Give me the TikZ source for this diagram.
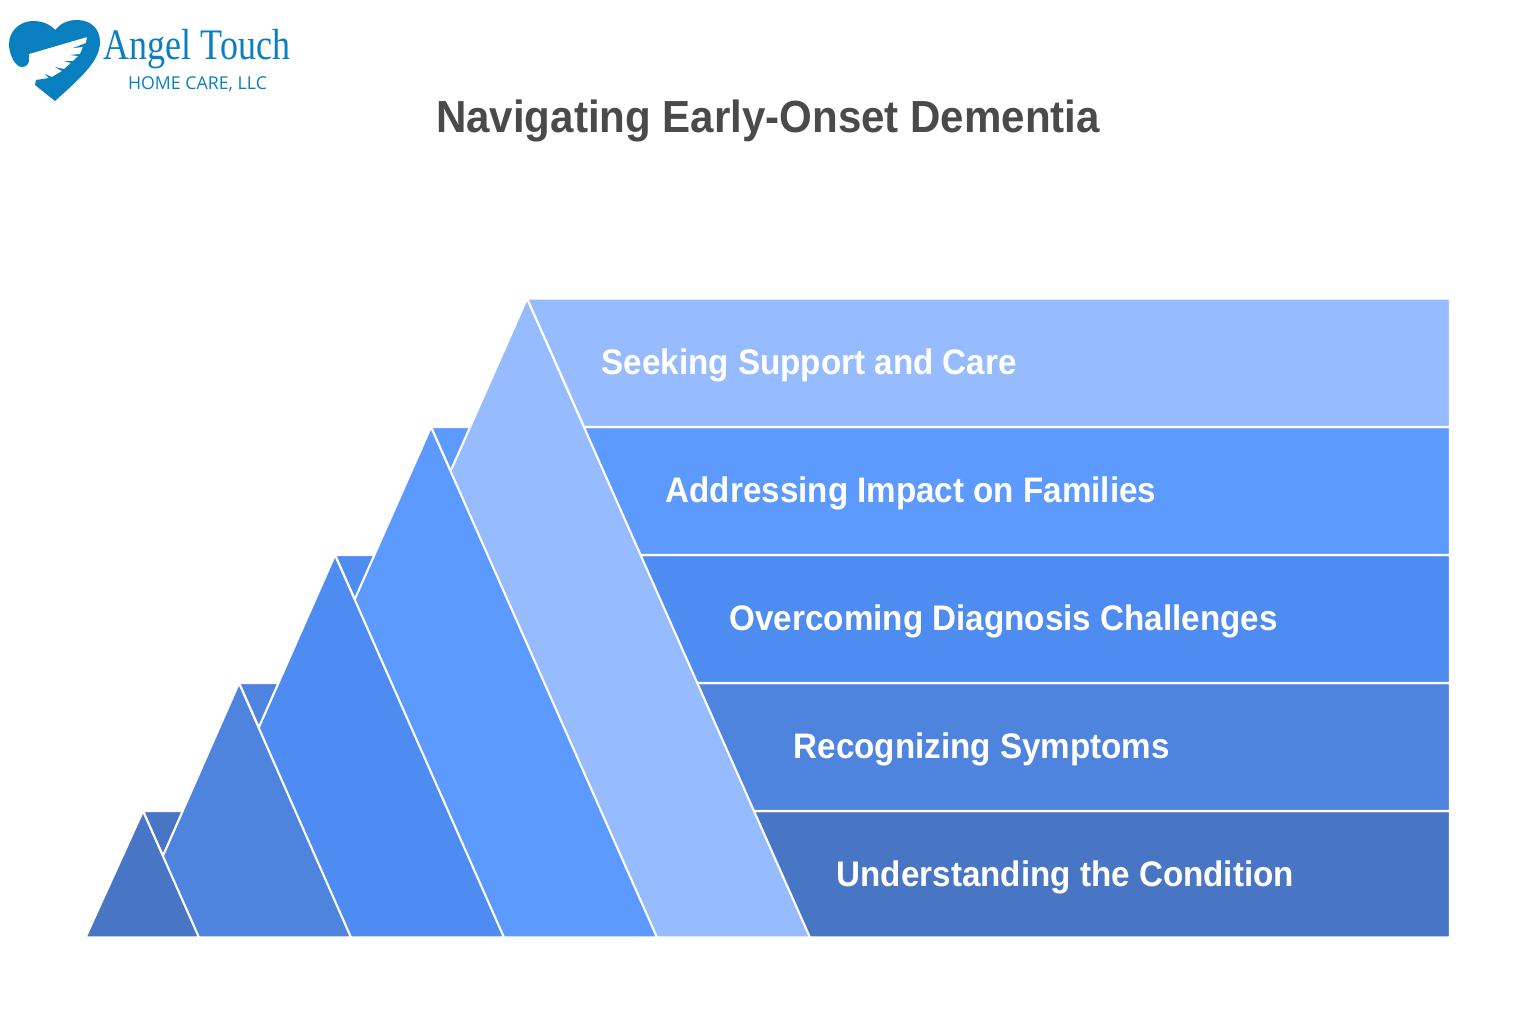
\documentclass[tikz,border=0pt]{standalone}
\usepackage{fontspec}
\setmainfont[FakeStretch=0.935]{Liberation Sans}
\newfontfamily\logoserif[FakeStretch=0.825]{Liberation Serif}
\newfontfamily\logosans{Open Sans}
\definecolor{shadeA}{HTML}{4976C4}
\definecolor{shadeB}{HTML}{4F84DE}
\definecolor{shadeC}{HTML}{4F8CF2}
\definecolor{shadeD}{HTML}{5C9AFF}
\definecolor{shadeE}{HTML}{96BBFF}
\definecolor{logoblue}{HTML}{0A7FBF}
\definecolor{titlegray}{HTML}{4A4A4A}
\tikzset{
    slab/.style={draw=white,line width=0.6pt,line join=round},
    steplabel/.style={anchor=west,text=white,inner sep=0pt,font=\fontsize{10.1}{12}\selectfont\bfseries}
}
\begin{document}
\begin{tikzpicture}
    \useasboundingbox (0,0) rectangle (15.36,-10.24);
    \fill[white] (0,0) rectangle (15.36,-10.24);
    % logo
    \fill[logoblue] (0.55,-1.01) .. controls (0.78,-0.80) and (1.00,-0.62) .. (1.00,-0.42)
        .. controls (1.00,-0.28) and (0.90,-0.20) .. (0.77,-0.20)
        .. controls (0.67,-0.20) and (0.60,-0.24) .. (0.55,-0.30)
        .. controls (0.50,-0.24) and (0.42,-0.21) .. (0.33,-0.21)
        .. controls (0.20,-0.21) and (0.09,-0.31) .. (0.09,-0.44)
        .. controls (0.09,-0.54) and (0.15,-0.67) .. (0.22,-0.67)
        .. controls (0.27,-0.67) and (0.29,-0.63) .. (0.29,-0.60)
        -- (0.29,-0.54) -- (0.87,-0.37) -- (0.86,-0.43) -- (0.73,-0.48) -- (0.83,-0.47)
        -- (0.80,-0.54) -- (0.70,-0.55) -- (0.78,-0.56) -- (0.73,-0.61) -- (0.64,-0.61)
        -- (0.71,-0.63) -- (0.64,-0.69) -- (0.55,-0.67) -- (0.62,-0.71) -- (0.52,-0.77)
        -- (0.45,-0.74) -- (0.49,-0.78) -- (0.36,-0.80) -- (0.35,-0.85) -- cycle;
    \node[text=logoblue,inner sep=0pt,font=\logoserif\fontsize{12.4}{14}\selectfont] (brand) at (1.97,-0.49) {Angel Touch};
    \node[text=logoblue,inner sep=0pt,font=\logosans\fontsize{5.05}{6}\selectfont] (brandsub) at (1.975,-0.84) {HOME CARE, LLC};
    % title
    \node[text=titlegray,inner sep=0pt,font=\fontsize{12.8}{15}\selectfont\bfseries] (title) at (7.68,-1.21) {Navigating Early-Onset Dementia};
    % bands
    \draw[slab,fill=shadeA] (1.43,-8.11) -- (14.50,-8.11) -- (14.50,-9.375) -- (1.99,-9.375) -- cycle;
    \draw[slab,fill=shadeB] (2.39,-6.83) -- (14.50,-6.83) -- (14.50,-8.11) -- (2.96,-8.11) -- cycle;
    \draw[slab,fill=shadeC] (3.35,-5.55) -- (14.50,-5.55) -- (14.50,-6.83) -- (3.92,-6.83) -- cycle;
    \draw[slab,fill=shadeD] (4.31,-4.27) -- (14.50,-4.27) -- (14.50,-5.55) -- (4.88,-5.55) -- cycle;
    \draw[slab,fill=shadeE] (5.27,-2.985) -- (14.50,-2.985) -- (14.50,-4.27) -- (5.84,-4.27) -- cycle;
    % triangles
    \draw[slab,fill=shadeE] (5.27,-2.985) -- (8.10,-9.375) -- (2.44,-9.375) -- cycle;
    \draw[slab,fill=shadeD] (4.31,-4.27) -- (6.57,-9.375) -- (2.05,-9.375) -- cycle;
    \draw[slab,fill=shadeC] (3.35,-5.55) -- (5.04,-9.375) -- (1.66,-9.375) -- cycle;
    \draw[slab,fill=shadeB] (2.39,-6.83) -- (3.51,-9.375) -- (1.27,-9.375) -- cycle;
    \draw[slab,fill=shadeA] (1.43,-8.11) -- (1.99,-9.375) -- (0.855,-9.375) -- cycle;
    % labels
    \node[steplabel] (seek) at (6.01,-3.655) {Seeking Support and Care};
    \node[steplabel] (impact) at (6.65,-4.935) {Addressing Impact on Families};
    \node[steplabel] (diagnosis) at (7.29,-6.215) {Overcoming Diagnosis Challenges};
    \node[steplabel] (symptoms) at (7.93,-7.495) {Recognizing Symptoms};
    \node[steplabel] (condition) at (8.36,-8.775) {Understanding the Condition};
\end{tikzpicture}
\end{document}
